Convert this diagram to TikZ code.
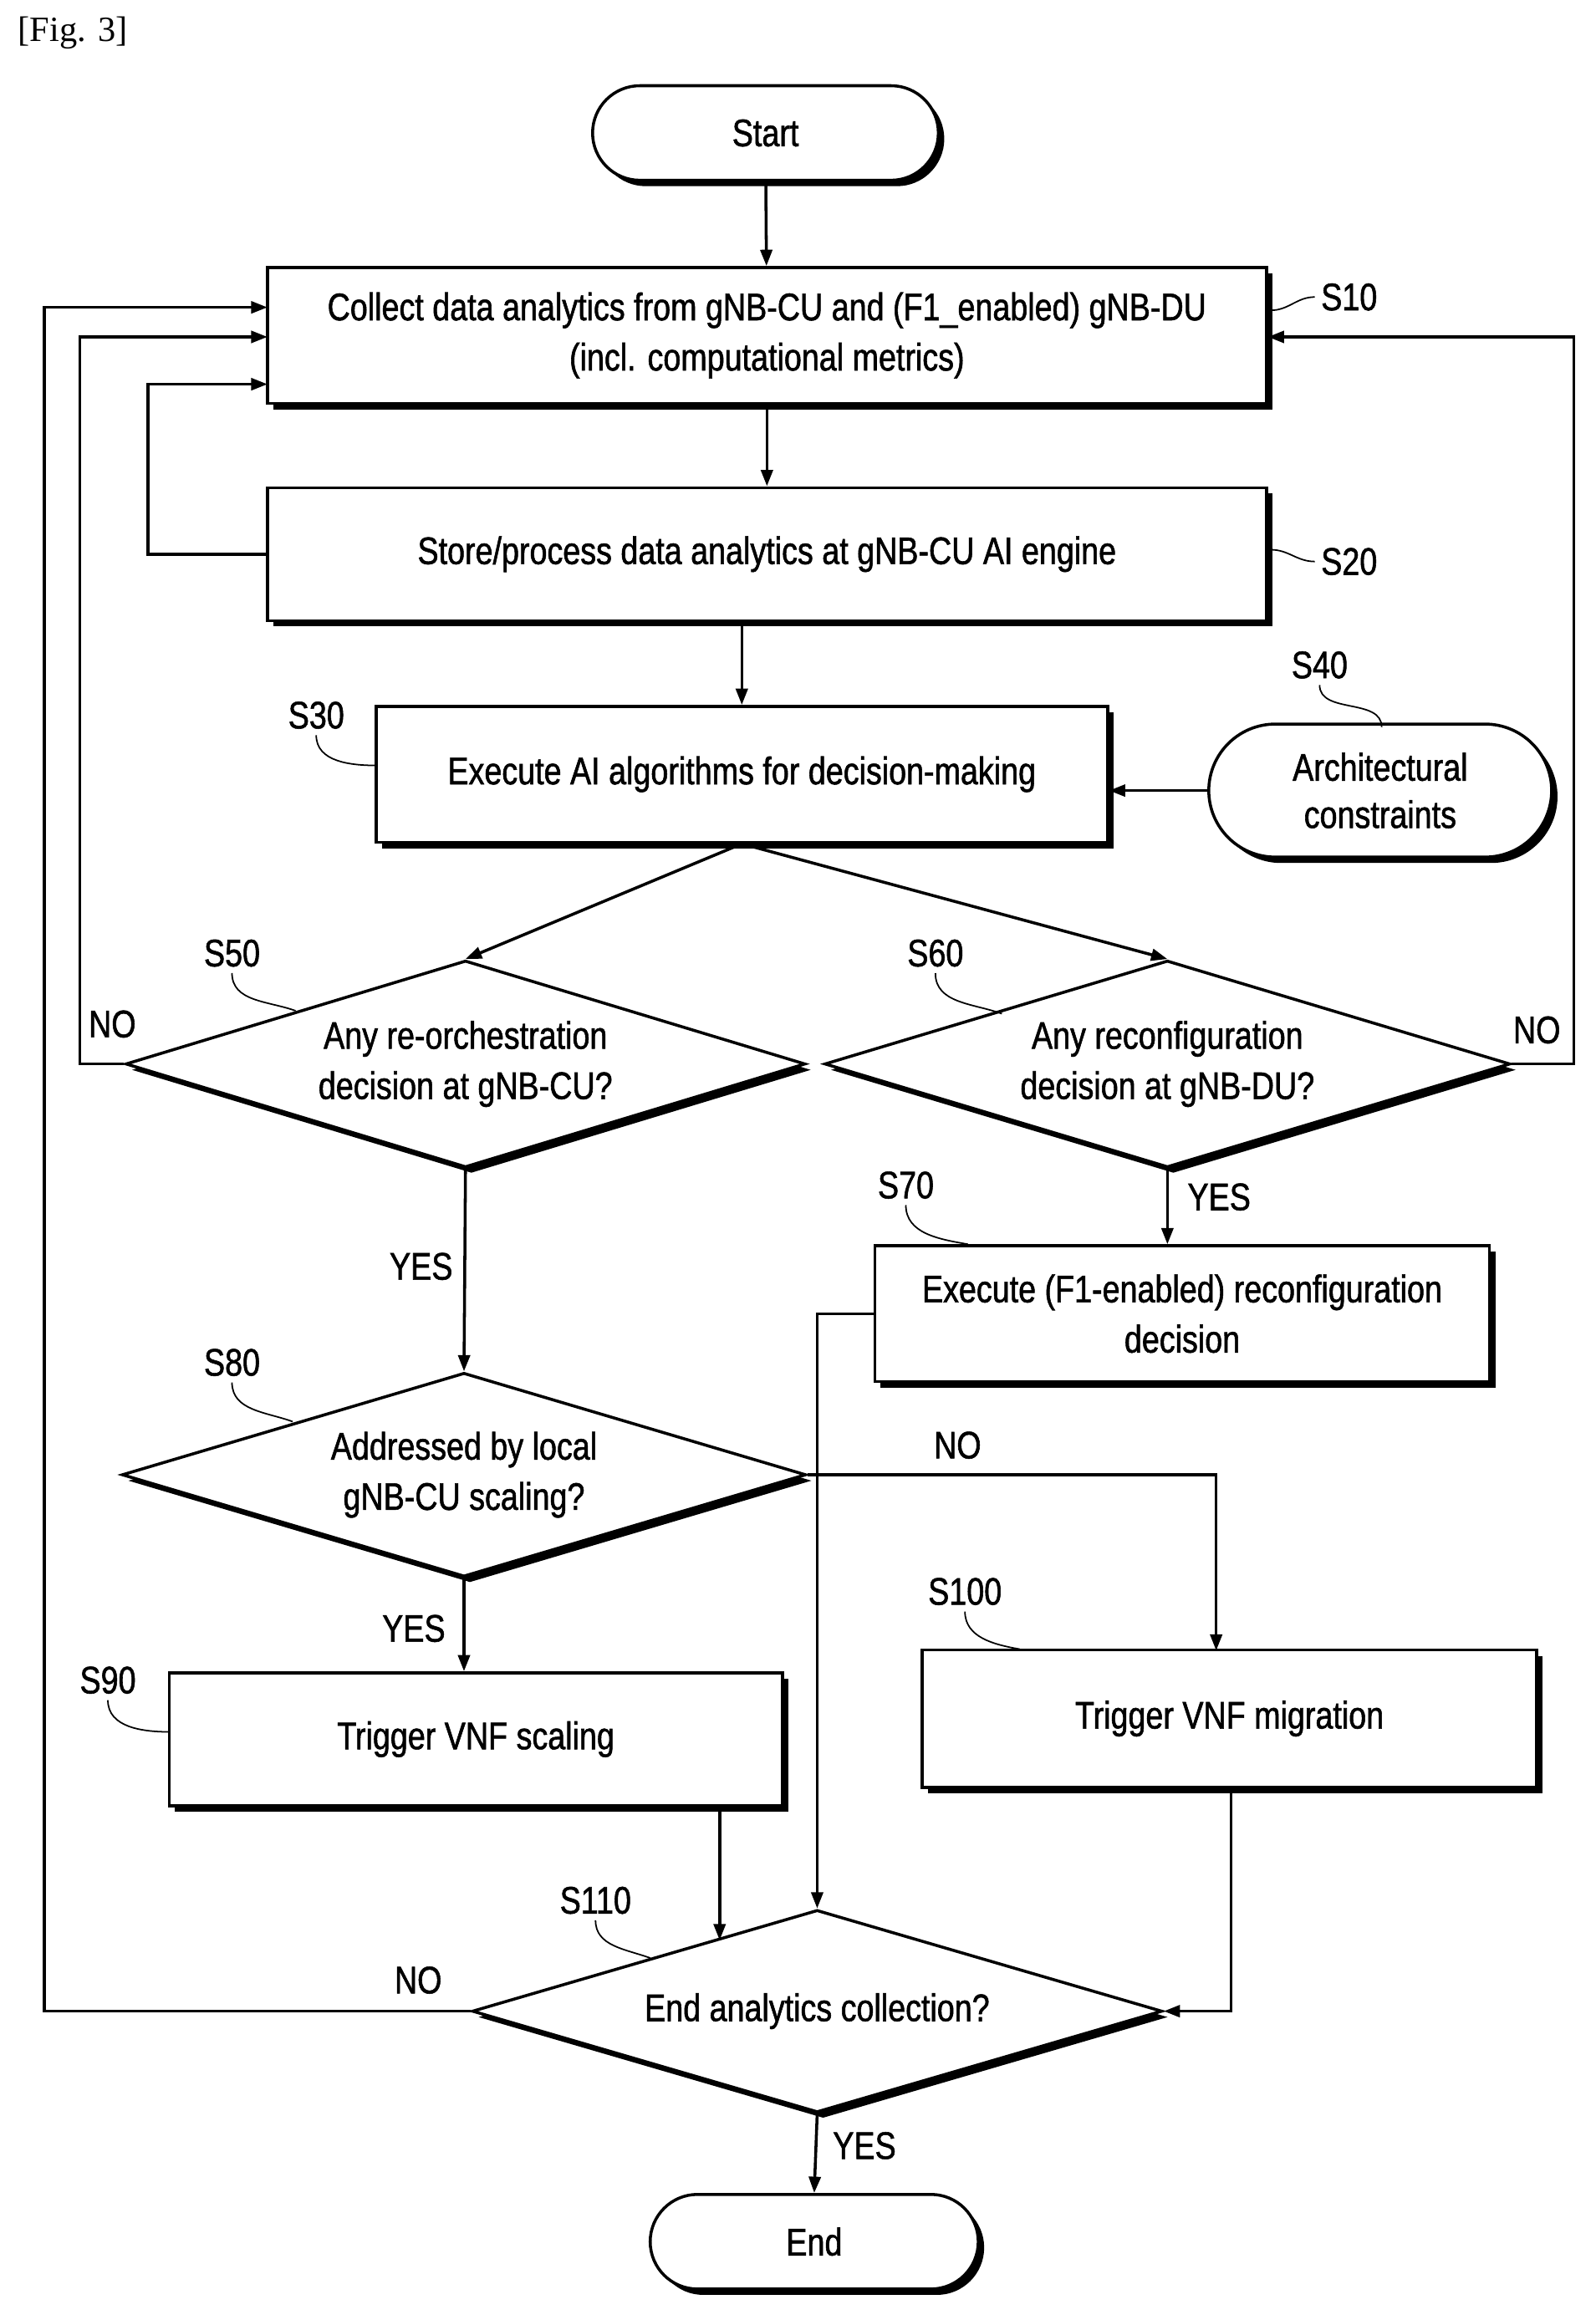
\documentclass[tikz,border=0pt]{standalone}
\usepackage{fontspec}
\setmainfont{Liberation Sans}[FakeStretch=0.82,FakeBold=1.2]
\newfontfamily\figserif{Liberation Serif}
\usetikzlibrary{shapes.geometric,shadows,arrows.meta}
\begin{document}
\begin{tikzpicture}[x=1pt,y=-1pt,line width=2pt,
  sh/.style={drop shadow={shadow xshift=4pt,shadow yshift=-4pt,opacity=1,fill=black}},
  box/.style={draw,fill=white,sh,align=center,inner sep=0pt,font=\fontsize{26}{34}\selectfont},
  dia/.style={diamond,draw,fill=white,sh,inner sep=0pt},
  dtext/.style={align=center,font=\fontsize{26}{34}\selectfont},
  term/.style={draw,fill=white,sh,rounded corners=32pt,align=center,font=\fontsize{26}{32}\selectfont},
  arr/.style={-{Triangle[length=11pt,width=8pt]}},
  lab/.style={font=\fontsize{26}{30}\selectfont},
  sq/.style={line width=1pt}]
\useasboundingbox (0,0) rectangle (1080,1570);
\node[anchor=west,font=\figserif\fontsize{24}{28}\selectfont] (fig) at (8,22) {[Fig. 3]};
\node[term,minimum width=234pt,minimum height=64pt] (start) at (518,90) {Start};
\node[box,minimum width=676pt,minimum height=92pt] (s10) at (519,227) {Collect data analytics from gNB-CU and (F1\_enabled) gNB-DU\\(incl. computational metrics)};
\node[box,minimum width=676pt,minimum height=90pt] (s20) at (519,375) {Store/process data analytics at gNB-CU AI engine};
\node[box,minimum width=495pt,minimum height=92pt] (s30) at (502,524) {Execute AI algorithms for decision-making};
\node[term,rounded corners=45pt,minimum width=232pt,minimum height=90pt] (s40) at (934,535) {Architectural\\constraints};
\node[dia,minimum width=460pt,minimum height=140pt] (s50) at (315,720) {};
\node[dtext] (t50) at (315,720) {Any re-orchestration\\decision at gNB-CU?};
\node[dia,minimum width=464pt,minimum height=140pt] (s60) at (790,720) {};
\node[dtext] (t60) at (790,720) {Any reconfiguration\\decision at gNB-DU?};
\node[box,minimum width=416pt,minimum height=92pt] (s70) at (800,889) {Execute (F1-enabled) reconfiguration\\decision};
\node[dia,minimum width=463pt,minimum height=138pt] (s80) at (314,998) {};
\node[dtext] (t80) at (314,998) {Addressed by local\\gNB-CU scaling?};
\node[box,minimum width=415pt,minimum height=90pt] (s90) at (322,1177) {Trigger VNF scaling};
\node[box,minimum width=416pt,minimum height=93pt] (s100) at (832,1163) {Trigger VNF migration};
\node[dia,minimum width=467pt,minimum height=137pt] (s110) at (553,1361) {};
\node[dtext] (t110) at (553,1361) {End analytics collection?};
\node[term,minimum width=222pt,minimum height=64pt] (end) at (551,1517) {End};
% step labels
\node[lab] (l10) at (913,201) {S10};
\node[lab] (l20) at (913,380) {S20};
\node[lab] (l30) at (214,484) {S30};
\node[lab] (l40) at (893,450) {S40};
\node[lab] (l50) at (157,645) {S50};
\node[lab] (l60) at (633,645) {S60};
\node[lab] (l70) at (613,802) {S70};
\node[lab] (l80) at (157,922) {S80};
\node[lab] (l90) at (73,1137) {S90};
\node[lab] (l100) at (653,1077) {S100};
\node[lab] (l110) at (403,1286) {S110};
\draw[sq] (l10.west) to[out=180,in=0] (860,210);
\draw[sq] (l20.west) to[out=180,in=0] (860,372);
\draw[sq] (l30.south) to[out=-90,in=180] (255,518);
\draw[sq] (l40.south) to[out=-90,in=90] (935,492);
\draw[sq] (l50.south) to[out=-90,in=160] (200,684);
\draw[sq] (l60.south) to[out=-90,in=160] (678,686);
\draw[sq] (l70.south) to[out=-90,in=170] (655,842);
\draw[sq] (l80.south) to[out=-90,in=160] (198,962);
\draw[sq] (l90.south) to[out=-90,in=180] (115,1172);
\draw[sq] (l100.south) to[out=-90,in=170] (690,1116);
\draw[sq] (l110.south) to[out=-90,in=160] (440,1325);
% connectors
\draw[arr] (start) -- (s10);
\draw[arr] (s10) -- (s20);
\draw[arr] (s20.south -| s30.north) -- (s30);
\draw[arr] (s40.west) -- (s30.east |- s40.west);
\draw[arr] (s30.south) -- (s50.north);
\draw[arr] (s30.south) -- (s60.north);
\draw[arr] (s50.west) -- ++(-30,0) |- (181,228);
\draw[arr] (s20.west) -- (100,375) |- (181,260);
\draw[arr] (s110.west) -- (30,1361) |- (181,208);
\draw[arr] (s60.east) -- (1065,720) |- (s10.east |- 0,228);
\draw[arr] (s60.south) -- (s60.south |- s70.north);
\draw[arr] (s50.south) -- (s80.north);
\draw[arr] (s80.south) -- (s80.south |- s90.north);
\draw[arr] (s80.east) -- (823,998) -- (823,1117);
\draw[arr] (s70.west) -- (553,889) -- (s110.north);
\coordinate (s90in) at (487,1313);
\draw[arr] (487,1222) -- (s90in);
\draw[arr] (833,1210) |- (s110.east);
\draw[arr] (s110.south) -- (end.north);
% branch labels
\node[lab] (n50) at (76,693) {NO};
\node[lab] (n60) at (1040,697) {NO};
\node[lab] (n110) at (283,1340) {NO};
\node[lab] (n80) at (648,978) {NO};
\node[lab] (y60) at (825,810) {YES};
\node[lab] (y50) at (285,857) {YES};
\node[lab] (y80) at (280,1102) {YES};
\node[lab] (y110) at (585,1452) {YES};
\end{tikzpicture}
\end{document}
